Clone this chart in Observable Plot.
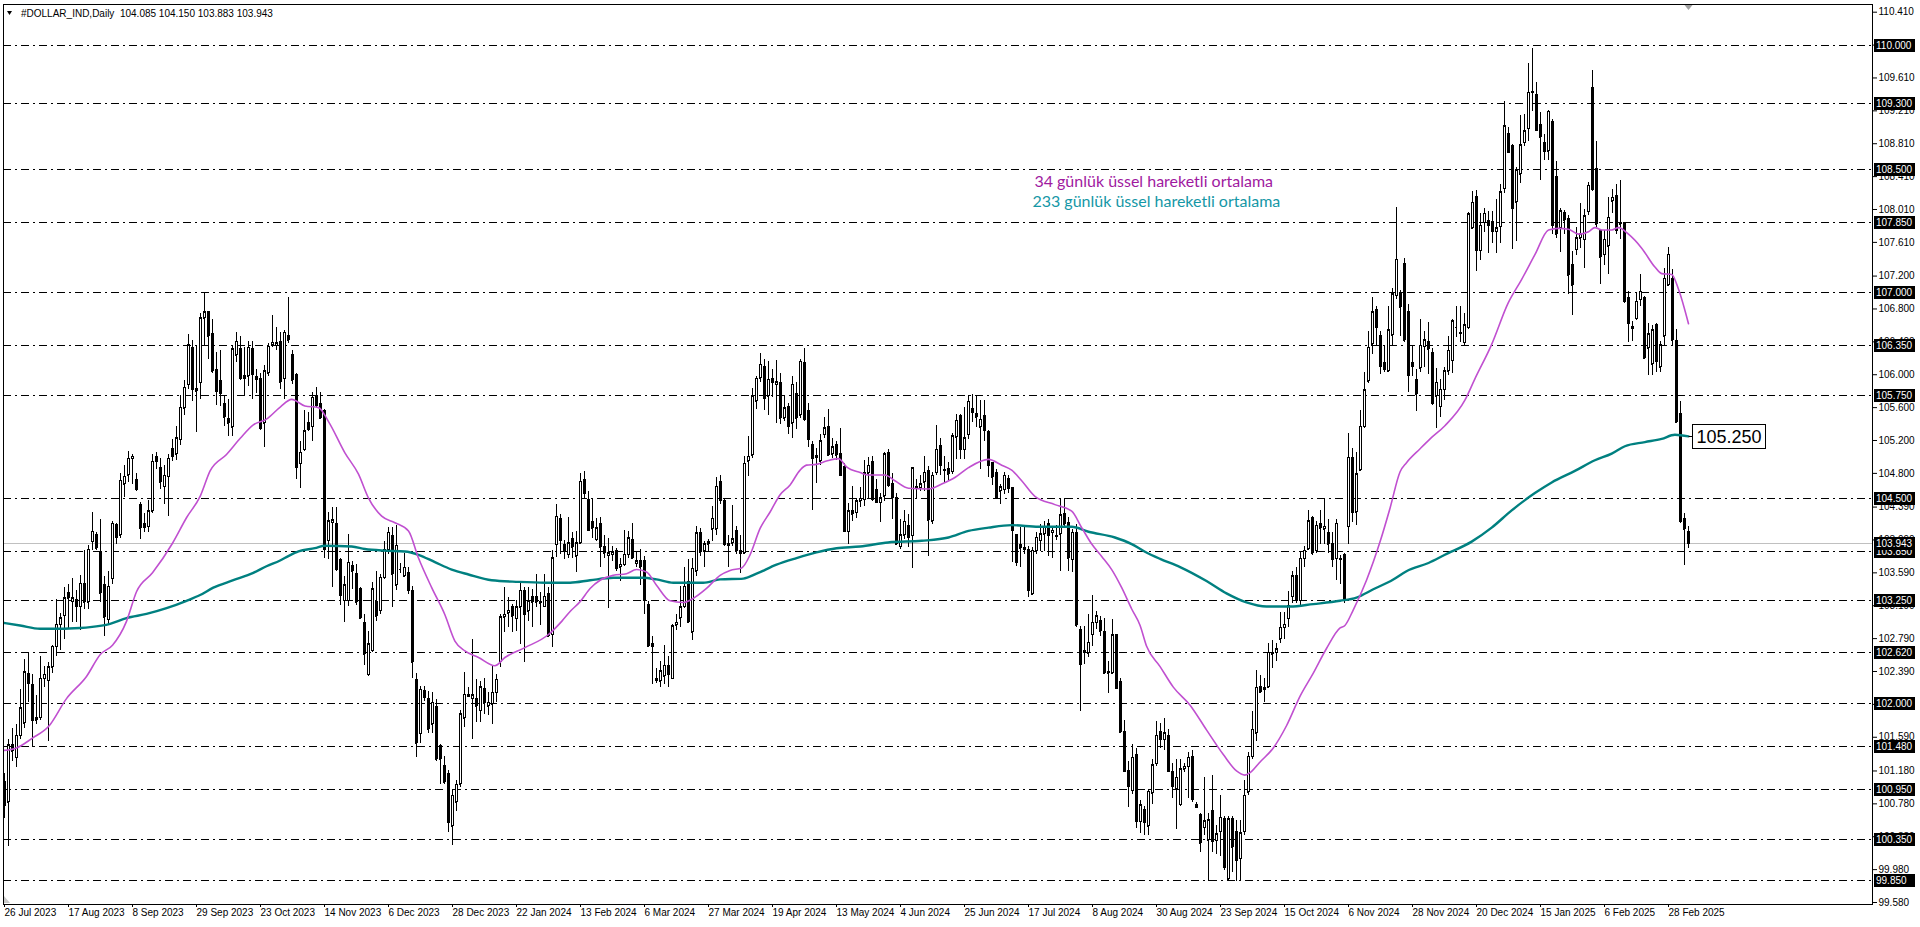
<!DOCTYPE html>
<html><head><meta charset="utf-8">
<script src="https://cdn.jsdelivr.net/npm/d3@7"></script>
<script src="https://cdn.jsdelivr.net/npm/@observablehq/plot@0.6"></script>
<style>
html,body{margin:0;padding:0;background:#fff;overflow:hidden}
#chart{width:1920px;height:927px}
</style></head><body><div id="chart"></div>
<script>
// ---- daily OHLC of #DOLLAR_IND, bar 0 = 26 Jul 2023 ... bar 421 = 7 Mar 2025 ----
const opens = [
101.05,100.80,101.49,101.34,101.61,101.76,102.36,102.22,101.83,101.83,
102.30,102.28,102.44,102.69,102.96,103.07,103.34,103.24,103.26,103.18,
103.46,103.23,103.97,104.05,103.84,103.44,103.02,103.52,104.17,104.05,
104.67,104.78,104.98,104.72,104.42,104.18,104.15,104.34,105.00,104.87,
104.64,104.76,105.10,105.03,105.21,105.59,105.88,106.33,105.83,105.90,
106.69,106.76,106.49,106.06,105.92,105.64,105.46,105.36,106.24,106.31,
105.98,105.98,106.31,105.97,105.95,105.41,106.02,106.36,106.35,106.40,
105.95,106.47,106.24,106.00,104.92,105.09,105.41,105.37,105.74,105.64,
105.56,103.98,104.20,104.19,103.75,103.25,103.25,103.67,103.58,103.39,
102.98,102.35,102.64,103.23,103.13,103.53,103.87,104.04,103.44,103.63,
103.55,103.59,103.37,102.29,101.63,102.15,102.05,101.75,101.96,101.48,
101.24,101.14,100.51,100.80,101.02,101.82,102.11,102.06,102.05,101.91,
102.18,101.97,101.99,102.13,102.50,103.05,103.10,103.18,103.03,103.17,
103.37,103.12,103.30,103.30,103.22,103.18,103.33,102.84,103.93,104.24,
103.93,103.81,104.00,103.79,103.95,104.72,104.48,104.21,103.99,104.19,
103.91,103.80,103.81,103.85,103.66,103.69,103.81,103.99,103.70,103.73,
103.73,103.20,102.72,102.30,102.27,102.33,102.46,102.30,102.95,103.04,
103.18,103.48,102.87,103.61,104.07,103.85,103.94,104.12,104.12,104.70,
104.46,103.92,103.95,104.10,103.85,103.83,104.95,105.02,105.68,105.96,
106.10,105.74,105.95,105.88,105.90,105.47,105.61,105.41,105.77,105.51,
106.14,105.56,105.15,104.99,104.95,105.27,105.37,105.03,105.15,105.03,
104.88,104.09,104.34,104.32,104.46,104.48,104.80,104.94,104.60,104.44,
104.52,105.05,104.67,104.50,103.91,104.05,104.16,104.04,104.62,104.62,
104.69,104.83,104.22,104.81,105.13,104.84,104.85,104.82,105.24,105.50,
105.09,105.27,105.58,105.52,105.36,105.50,105.30,104.93,104.81,104.58,
104.60,104.73,104.62,104.05,103.93,103.89,103.87,103.33,103.85,103.98,
104.06,104.18,104.08,104.03,104.06,104.31,104.20,103.75,104.08,102.90,
102.64,102.61,102.84,102.98,103.00,102.87,102.38,102.37,102.83,102.26,
101.66,101.18,100.94,101.38,100.56,100.71,100.51,100.91,101.27,101.65,
101.56,101.61,101.17,100.96,100.77,101.20,101.23,101.35,100.77,100.64,
100.49,100.34,100.69,100.33,100.44,100.59,99.86,100.60,100.44,100.11,
100.44,100.92,101.35,101.64,102.20,102.19,102.20,102.60,102.62,102.78,
102.92,103.03,103.30,103.55,103.25,103.76,103.88,104.26,103.86,104.19,
104.12,104.08,103.94,103.76,103.76,103.81,104.15,104.99,104.33,104.84,
105.37,105.92,106.37,106.79,106.47,106.14,106.04,106.48,106.96,107.00,
107.35,106.76,106.14,105.93,106.08,106.34,106.40,106.26,105.74,105.61,
105.82,106.04,106.17,106.58,106.50,106.39,106.57,107.78,108.16,107.51,
107.85,107.87,107.86,107.74,107.80,108.26,108.93,108.78,108.10,108.44,
108.82,108.99,109.43,109.40,109.04,108.82,108.72,109.07,108.40,107.78,
107.97,107.90,107.34,107.52,107.66,107.64,107.98,109.49,108.50,107.75,
107.46,107.56,108.11,108.17,107.85,107.84,106.93,106.58,106.68,106.91,
106.93,106.32,106.13,106.61,106.09,106.47,107.09,107.16,106.41,105.52,
104.25,104.085];
const highs = [
101.15,101.56,101.70,101.74,102.17,102.53,102.61,102.35,102.10,102.57,
102.45,102.50,102.71,103.27,103.10,103.41,103.45,103.52,103.38,103.56,
103.86,103.92,104.33,104.08,104.24,103.54,103.61,104.22,104.19,104.80,
104.89,105.07,105.03,104.80,104.44,104.31,104.47,105.03,105.05,104.98,
104.89,105.03,105.21,105.37,105.75,105.93,106.49,106.42,106.36,106.74,
107.00,106.76,106.67,106.27,106.29,105.75,105.70,106.36,106.51,106.47,
106.33,106.40,106.40,106.06,106.02,106.11,106.38,106.72,106.58,106.51,
106.54,106.94,106.29,106.02,105.19,105.56,105.54,105.78,105.84,105.78,
105.58,104.32,104.38,104.38,103.77,103.55,104.06,103.73,103.69,103.41,
103.08,102.88,103.47,103.61,103.57,103.97,104.14,104.14,104.17,103.70,
103.83,103.65,103.43,102.37,102.21,102.21,102.15,102.13,102.05,101.50,
101.36,101.18,100.96,101.06,101.91,102.38,102.19,102.78,102.29,102.27,
102.31,102.14,102.46,102.35,103.08,103.41,103.29,103.21,103.25,103.47,
103.41,103.41,103.39,103.57,103.35,103.57,103.41,103.86,104.42,104.30,
103.98,104.26,104.08,104.09,104.80,104.82,104.58,104.48,104.25,104.26,
104.05,104.01,103.91,103.89,103.77,104.11,104.09,104.19,103.85,103.87,
103.79,103.24,102.81,102.43,102.51,102.71,102.57,102.96,103.08,103.42,
103.65,103.75,103.77,104.15,104.13,103.97,103.99,104.40,104.75,104.78,
104.50,104.05,104.41,104.15,104.05,105.00,105.25,105.83,105.98,106.26,
106.19,106.16,106.06,106.17,106.02,105.73,105.65,105.98,105.90,106.18,
106.32,105.65,105.19,105.10,105.27,105.48,105.58,105.23,105.19,105.34,
104.92,104.43,104.64,104.48,104.63,104.96,104.99,105.00,104.73,104.56,
105.05,105.09,104.80,104.56,104.24,104.35,104.30,104.87,104.73,104.77,
105.01,104.88,104.81,105.38,105.23,105.01,104.93,105.28,105.52,105.52,
105.60,105.75,105.76,105.74,105.69,105.69,105.32,104.93,104.85,104.67,
104.81,104.77,104.63,104.06,104.14,104.14,103.91,103.90,104.08,104.18,
104.22,104.24,104.14,104.16,104.50,104.50,104.26,104.12,104.18,102.94,
102.94,103.08,103.31,103.12,103.06,103.04,102.51,103.02,102.83,102.31,
101.80,101.29,101.50,101.45,100.82,100.75,100.96,101.32,101.78,101.76,
101.82,101.68,101.27,101.32,101.32,101.27,101.40,101.43,100.80,100.66,
101.10,100.66,101.13,100.52,100.88,100.63,100.63,100.63,100.58,100.58,
101.07,101.40,101.90,102.40,102.34,102.31,102.73,102.77,102.73,103.11,
103.11,103.36,103.61,103.66,103.84,103.91,104.35,104.28,104.21,104.35,
104.48,104.24,104.08,104.24,103.80,103.83,105.29,105.10,105.05,105.56,
106.03,106.53,106.94,106.83,106.53,106.36,106.83,107.05,108.03,107.02,
107.41,106.86,106.36,106.06,106.67,106.53,106.64,106.32,106.07,105.94,
106.09,106.47,106.67,106.83,106.83,106.74,107.97,108.23,108.24,107.96,
108.02,107.98,107.98,108.13,108.31,109.32,109.01,108.80,108.52,109.15,
109.17,109.78,109.97,109.55,109.19,108.92,109.22,109.11,108.59,108.02,
108.00,107.94,107.50,107.79,108.08,108.01,108.34,109.70,108.84,107.76,
107.75,108.15,108.25,108.31,108.36,107.85,107.01,106.65,106.99,107.22,
106.95,106.62,106.60,106.62,106.41,107.29,107.55,107.28,106.55,105.67,
104.31,104.150];
const lows = [
100.60,100.26,101.30,101.22,101.56,101.70,102.01,101.47,101.75,101.80,
102.20,101.54,102.37,102.57,102.64,102.78,102.91,102.98,102.98,102.89,
103.14,103.14,103.86,103.86,103.23,102.81,102.96,103.45,103.93,104.01,
104.51,104.69,104.66,104.58,103.99,104.08,104.08,104.31,104.85,104.60,
104.42,104.28,104.94,104.96,105.14,105.50,105.82,105.68,105.30,105.70,
106.36,106.18,106.02,105.63,105.61,105.37,105.25,105.25,106.15,105.93,
105.75,105.86,105.70,105.77,105.32,105.12,105.98,106.33,106.30,105.82,
105.70,106.38,105.88,104.72,104.62,105.07,105.31,105.19,105.60,105.45,
103.77,103.75,103.41,103.61,103.19,102.98,103.18,103.39,103.19,103.02,
102.46,102.33,102.62,103.00,103.08,103.51,103.81,103.17,103.38,103.58,
103.55,103.33,102.31,101.34,101.52,102.03,101.63,101.63,101.30,101.02,
101.01,100.43,100.27,100.69,100.98,101.71,102.07,101.56,101.77,101.77,
101.87,101.85,101.75,102.01,102.44,102.86,102.92,102.86,102.88,102.72,
102.50,103.00,102.92,103.17,102.95,103.17,102.82,102.68,103.78,103.81,
103.75,103.77,103.77,103.60,103.93,104.50,104.09,104.01,103.97,103.65,
103.77,103.16,103.73,103.61,103.48,103.67,103.77,103.75,103.65,103.44,
103.08,102.70,102.23,102.24,102.19,102.23,102.20,102.29,102.89,102.92,
103.16,102.98,102.77,103.54,103.79,103.65,103.85,103.97,104.05,104.42,
103.91,103.65,103.91,103.81,103.58,103.81,104.76,104.98,105.58,105.90,
105.57,105.51,105.72,105.41,105.39,105.43,105.27,105.23,105.33,105.47,
105.43,105.11,104.35,104.68,104.90,105.23,105.00,104.98,104.96,104.76,
104.08,103.93,104.21,104.25,104.38,104.40,104.48,104.46,104.44,104.20,
104.46,104.63,104.24,103.93,103.87,104.00,103.90,103.64,104.50,104.58,
104.58,103.79,104.18,104.77,104.77,104.69,104.71,104.79,104.97,104.97,
104.97,105.21,105.42,105.36,104.85,105.19,104.75,104.65,104.48,104.42,
104.54,104.56,103.71,103.67,103.65,103.81,103.29,103.31,103.81,103.85,
103.85,103.79,103.77,103.98,103.61,104.14,103.61,103.59,102.92,101.90,
102.47,102.56,102.70,102.90,102.82,102.35,102.12,102.35,102.17,101.64,
101.16,100.73,100.89,100.48,100.42,100.39,100.39,100.77,101.24,101.45,
101.43,101.16,100.85,100.47,100.75,101.16,100.85,100.80,100.72,100.19,
100.39,99.83,100.19,100.16,100.14,99.97,99.85,99.94,99.83,99.83,
100.39,100.88,101.32,101.54,102.13,102.01,102.18,102.43,102.51,102.73,
102.78,102.92,103.22,103.22,103.19,103.66,103.86,103.80,103.83,103.94,
103.94,103.83,103.66,103.50,103.45,103.22,103.94,104.20,104.16,104.82,
105.34,105.89,106.25,106.34,106.00,106.03,106.03,106.36,106.91,106.47,
106.39,105.78,105.98,105.55,106.03,106.09,106.00,105.63,105.34,105.48,
105.69,105.99,106.01,106.45,106.39,106.36,106.55,107.77,107.25,107.39,
107.73,107.48,107.60,107.48,107.60,108.21,108.69,107.52,107.62,108.33,
108.78,108.84,109.20,108.96,108.36,108.60,108.61,107.71,107.66,107.49,
107.71,106.97,106.72,107.45,107.54,107.29,107.94,108.23,107.79,107.10,
107.33,107.22,107.96,107.71,107.64,106.87,106.39,106.40,106.66,106.83,
106.18,105.99,105.99,106.03,106.03,106.36,107.08,106.34,105.42,104.19,
103.68,103.883];
const closes = [
100.75,101.49,101.42,101.61,101.94,102.38,102.24,101.79,101.80,102.30,
102.35,102.44,102.69,102.96,103.04,103.28,103.28,103.28,103.18,103.46,
103.23,103.87,104.09,103.89,103.34,103.05,103.42,104.19,104.02,104.71,
104.76,104.98,105.00,104.60,104.13,104.14,104.34,104.94,104.94,104.69,
104.77,104.98,105.00,105.23,105.60,105.84,106.36,105.82,105.80,106.69,
106.76,106.47,106.04,105.79,105.77,105.48,105.41,106.31,106.40,105.95,
105.95,106.33,106.00,105.94,105.34,106.04,106.34,106.39,106.38,105.91,
106.51,106.42,105.93,104.87,105.05,105.31,105.33,105.72,105.62,105.47,
103.87,104.22,104.23,103.63,103.31,103.44,103.71,103.61,103.23,103.04,
102.60,102.72,103.39,103.06,103.53,103.87,104.08,103.57,103.92,103.63,
103.65,103.37,102.50,101.52,102.17,102.07,101.69,102.01,101.32,101.32,
101.04,100.55,100.88,101.01,101.87,102.11,102.08,102.10,101.97,102.20,
102.01,102.01,102.13,102.29,103.05,103.08,103.13,103.06,103.17,103.37,
103.08,103.24,103.23,103.23,103.24,103.30,102.82,103.77,104.27,103.98,
103.86,103.95,103.90,103.95,104.70,104.55,104.10,104.13,104.13,103.90,
103.83,103.83,103.84,103.64,103.69,103.81,104.01,103.77,103.73,103.66,
103.25,102.70,102.69,102.28,102.39,102.46,102.35,102.94,102.98,103.17,
103.42,102.99,103.64,104.07,103.84,103.94,103.96,104.25,104.64,104.47,
103.93,103.94,104.00,103.85,103.82,104.92,105.00,105.74,105.95,106.12,
105.71,105.94,105.90,105.91,105.47,105.59,105.37,105.88,105.47,106.16,
105.45,105.21,104.98,105.01,105.19,105.35,105.02,105.12,105.02,104.77,
104.09,104.34,104.30,104.46,104.49,104.80,104.89,104.48,104.44,104.50,
105.03,104.65,104.50,103.94,104.05,104.21,104.02,104.86,104.63,104.67,
104.81,104.23,104.77,105.09,104.89,104.83,104.79,105.25,105.44,105.09,
105.23,105.67,105.54,105.48,105.45,105.32,104.89,104.75,104.50,104.63,
104.77,104.61,104.10,103.71,103.89,103.87,103.37,103.86,104.02,104.06,
104.14,104.04,104.10,104.04,104.29,104.18,103.77,104.08,102.95,102.47,
102.63,102.74,102.98,103.06,102.88,102.37,102.37,102.83,102.18,101.65,
101.17,100.99,101.34,100.56,100.76,100.55,100.93,101.25,101.61,101.56,
101.64,101.17,100.99,101.10,101.20,101.23,101.34,100.83,100.73,100.30,
100.57,100.58,100.32,100.41,100.61,100.00,100.59,100.25,100.09,100.42,
100.88,101.35,101.68,102.19,102.14,102.17,102.62,102.62,102.66,102.92,
102.96,103.19,103.55,103.25,103.76,103.86,104.22,103.83,104.16,104.13,
104.15,103.94,103.75,104.19,103.75,103.25,104.99,104.32,104.79,105.37,
105.81,106.33,106.76,106.57,106.10,106.06,106.54,106.98,107.40,106.82,
106.42,105.99,106.10,105.76,106.35,106.42,106.31,105.65,105.90,105.82,
106.04,106.29,106.65,106.58,106.51,106.60,107.95,108.09,107.51,107.81,
107.96,107.81,107.74,107.78,108.22,109.02,108.70,108.02,108.48,108.79,
108.96,109.43,109.44,108.97,108.89,108.71,109.20,107.81,107.71,107.99,
107.88,107.21,107.09,107.66,107.71,107.93,108.30,108.25,107.83,107.43,
107.64,107.91,108.15,107.75,107.83,106.89,106.62,106.56,106.89,107.01,
106.20,106.49,106.54,106.16,106.36,107.17,107.46,106.42,105.42,104.21,
104.12,103.943];

// ---- 34-day EMA (magenta), read at sample bars ----
const ema34Bar = [0,3,7,11,15.5,20.5,24,27,30.5,33,37,42,45.5,49,51.4,55.5,59,62.2,65.5,69,71.8,75.1,78.5,81,85.1,88.5,91,94.3,97.6,101,103.5,106.8,110.1,112.6,115.1,118.5,122.6,125.1,130.1,136,139.3,141.4,143.9,146.4,148.9,152.2,155.5,158,160.5,163,166.4,169.7,172.2,175.5,178.9,181.4,184.3,186.4,188.9,191.4,193.9,196.4,198.9,200.5,203,205.5,208.5,210.5,213.9,216,220.1,222.6,226,231,234.3,237.6,241,246,249.3,251.8,254.3,257.6,262.6,266.8,269.3,271.8,274.3,276.8,279.3,281.8,283.9,285.5,288.9,292.2,296.4,300.5,304.7,308,310.1,311.4,313.9,317.2,320.5,323.9,327.2,330.5,333.9,335.1,337.2,340.5,343.9,346.4,348.9,350.5,353.9,356.4,360.1,365.1,367.6,371.8,375.9,379.3,382.6,386,388.5,391,393.5,396,397.6,399.3,401.8,403.5,406,409.3,412.6,414.3,416.8,418.5,421];
const ema34Val = [101.43,101.46,101.58,101.72,102.06,102.33,102.60,102.71,103.00,103.36,103.59,103.95,104.26,104.53,104.83,105.03,105.23,105.39,105.46,105.61,105.70,105.62,105.60,105.43,105.05,104.79,104.50,104.28,104.20,104.10,103.77,103.41,103.08,102.76,102.64,102.56,102.46,102.56,102.68,102.84,103.00,103.12,103.24,103.40,103.50,103.56,103.58,103.63,103.60,103.44,103.25,103.23,103.28,103.40,103.56,103.62,103.65,103.81,104.13,104.33,104.54,104.66,104.84,104.90,104.91,104.95,104.98,104.88,104.81,104.78,104.78,104.71,104.62,104.61,104.67,104.75,104.87,104.97,104.90,104.84,104.71,104.52,104.42,104.34,104.14,103.94,103.79,103.63,103.41,103.15,102.95,102.70,102.45,102.20,101.98,101.68,101.38,101.18,101.13,101.16,101.29,101.46,101.73,102.09,102.37,102.67,102.92,102.95,103.14,103.50,103.97,104.38,104.82,104.93,105.10,105.22,105.38,105.69,105.95,106.37,106.87,107.16,107.46,107.76,107.78,107.77,107.71,107.74,107.79,107.76,107.76,107.79,107.71,107.54,107.31,107.23,107.22,107.04,106.62];
// ---- 233-day EMA (teal), read at sample bars ----
const ema233Bar = [0,3.9,8.9,13.9,18.9,21.4,26.4,30.5,35.5,40.5,45.5,48.9,52.2,57.2,62.2,65.5,68.9,71.2,73.5,77.6,80.1,86.8,90.1,95.1,100.1,103.5,107.6,111.8,116,121.8,128.5,135.1,141.4,146.4,152.2,159.7,163,167.2,174.7,178.9,184.7,188,193,198,203,208,213.9,220.9,229.3,236,241,246,251.8,258.5,266.8,271,277.6,281.8,285,288.9,293.9,300.5,305.5,310.5,315.5,321.4,327.2,333.9,338,342.2,347.2,350.5,356,360.1,366.8,371.8,376.8,382.6,386.8,392.6,397.6,401.8,405.1,410.1,414.3,417.6,421];
const ema233Val = [102.98,102.95,102.91,102.91,102.92,102.93,102.97,103.04,103.09,103.16,103.25,103.32,103.41,103.50,103.59,103.67,103.74,103.80,103.85,103.89,103.92,103.91,103.88,103.86,103.85,103.81,103.72,103.63,103.57,103.50,103.48,103.47,103.47,103.50,103.53,103.53,103.51,103.47,103.47,103.51,103.52,103.58,103.69,103.77,103.84,103.89,103.91,103.96,103.98,104.02,104.10,104.14,104.17,104.15,104.15,104.09,104.02,103.94,103.85,103.76,103.66,103.49,103.34,103.23,103.18,103.18,103.21,103.25,103.29,103.39,103.51,103.61,103.71,103.81,103.97,104.14,104.35,104.56,104.69,104.83,104.96,105.04,105.13,105.18,105.22,105.27,105.25];

// ---- horizontal levels, axis ticks, date labels ----
const levels = [110.000,109.300,108.500,107.850,107.000,106.350,105.750,104.500,103.850,103.250,102.620,102.000,101.480,100.950,100.350,99.850];
const priceTicks = [110.41,110.01,109.61,109.21,108.81,108.41,108.01,107.61,107.20,106.80,106.40,106.00,105.60,105.20,104.80,104.39,103.99,103.59,103.19,102.79,102.39,101.99,101.59,101.18,100.78,100.38,99.98,99.58];
const dateLabels = ["26 Jul 2023","17 Aug 2023","8 Sep 2023","29 Sep 2023","23 Oct 2023","14 Nov 2023","6 Dec 2023","28 Dec 2023","22 Jan 2024","13 Feb 2024","6 Mar 2024","27 Mar 2024","19 Apr 2024","13 May 2024","4 Jun 2024","25 Jun 2024","17 Jul 2024","8 Aug 2024","30 Aug 2024","23 Sep 2024","15 Oct 2024","6 Nov 2024","28 Nov 2024","20 Dec 2024","15 Jan 2025","6 Feb 2025","28 Feb 2025"];
const labelStep = 16;
const legendLines = ["34 günlük üssel hareketli ortalama","233 günlük üssel hareketli ortalama"];
const legendColors = ["#a0199f","#1597a6"];
const symbolName = "#DOLLAR_IND,Daily";

// ---- build tables ----
const bars = opens.map((o, i) => ({i, open: o, high: highs[i], low: lows[i], close: closes[i]}));
const bulls = bars.filter(d => d.close >= d.open);
const bears = bars.filter(d => d.close < d.open);
const ema34 = ema34Bar.map((b, k) => ({b, v: ema34Val[k]}));
const ema233 = ema233Bar.map((b, k) => ({b, v: ema233Val[k]}));
const last = bars[bars.length - 1];
const lastI = last.i;
const dateTicks = dateLabels.map((d, k) => k * labelStep);

const W = 1920, H = 927, mL = 3, mR = 48, mT = 4, mB = 23;
const FONT = "'Liberation Sans', Arial, sans-serif";
const crisp = {shapeRendering: "crispEdges"};

const chart = Plot.plot({
  width: W, height: H,
  marginLeft: mL, marginRight: mR, marginTop: mT, marginBottom: mB,
  style: {fontFamily: FONT, fontSize: "10px", background: "#fff", overflow: "visible", color: "#000"},
  x: {type: "linear", domain: [0, 421], range: [4, 1688], axis: null},
  y: {type: "linear", domain: [99.58, 110.41], range: [902, 11.7], axis: null},
  marks: [
    Plot.ruleY(levels, {stroke: "#000", strokeWidth: 1, strokeDasharray: "8,4,2,4", ...crisp}),
    Plot.ruleY([last.close], {stroke: "#c0c0c0", strokeWidth: 1, ...crisp}),
    Plot.ruleX(bars, {x: "i", y1: "low", y2: "high", stroke: "#000", strokeWidth: 1, ...crisp}),
    Plot.rect(bears, {x1: d => d.i - 0.25, x2: d => d.i + 0.25, y1: "open", y2: "close", fill: "#000", stroke: "#000", strokeWidth: 1, ...crisp}),
    Plot.rect(bulls, {x1: d => d.i - 0.25, x2: d => d.i + 0.25, y1: "open", y2: "close", fill: "#fff", stroke: "#000", strokeWidth: 1, ...crisp}),
    Plot.ruleY(bars, {y: "close", x1: d => d.i - 0.25, x2: d => d.i + 0.25, stroke: "#000", strokeWidth: 1, ...crisp}),
    Plot.ruleY(bars, {y: "open", x1: d => d.i - 0.25, x2: d => d.i + 0.25, stroke: "#000", strokeWidth: 1, ...crisp}),
    Plot.line(ema233, {x: "b", y: "v", stroke: "#008080", strokeWidth: 2.4, curve: "monotone-x"}),
    Plot.line(ema34, {x: "b", y: "v", stroke: "#c050d0", strokeWidth: 1.6, curve: "monotone-x"}),
    Plot.frame({stroke: "#000", strokeWidth: 1, ...crisp}),
    Plot.axisY(priceTicks, {anchor: "right", tickSize: 4, tickPadding: 2, tickFormat: d => d.toFixed(3), fontSize: 10}),
    Plot.axisX(dateTicks, {anchor: "bottom", tickSize: 3, tickPadding: 1, tickFormat: d => dateLabels[d / labelStep], textAnchor: "start", fontSize: 10})
  ]
});
document.getElementById("chart").appendChild(chart);

// ---- overlays placed through the plot's own scales ----
const xs = chart.scale("x"), ys = chart.scale("y");
const svg = d3.select(chart);
const g = svg.append("g").attr("font-family", FONT).attr("text-anchor", "start");

// legend text (coloured)
const legX = xs.apply(257.6), legY = ys.apply(108.35);
legendLines.forEach((t, k) => {
  g.append("text").attr("x", legX + (k ? -2 : 0)).attr("y", legY + k * 20.5).attr("dy", "0.35em")
    .attr("text-anchor", "start")
    .attr("font-family", "Lato, 'Open Sans', sans-serif").attr("font-size", 16)
    .attr("fill", legendColors[k]).text(t);
});

// right-axis black level boxes (levels + current price)
const axX = W - mR + 2;
[...levels, last.close].forEach(v => {
  const y = Math.round(ys.apply(v)) + 0.5;
  g.append("rect").attr("x", axX).attr("y", y - 6.5).attr("width", 41).attr("height", 13).attr("fill", "#000");
  g.append("text").attr("x", axX + 2).attr("y", y).attr("dy", "0.36em").attr("font-size", 10)
    .attr("text-anchor", "start").attr("fill", "#fff").text(v.toFixed(3));
});

// 233 EMA value label box
const emaLast = ema233Val[ema233Val.length - 1];
const ex = xs.apply(lastI) + 0.5, ey = Math.round(ys.apply(emaLast)) + 0.5;
g.append("line").attr("x1", ex).attr("x2", ex + 4).attr("y1", ey).attr("y2", ey).attr("stroke", "#000");
g.append("rect").attr("x", ex + 4).attr("y", ey - 12).attr("width", 73).attr("height", 24)
  .attr("fill", "#fff").attr("stroke", "#000").attr("stroke-width", 1);
g.append("text").attr("x", ex + 40.5).attr("y", ey).attr("dy", "0.36em").attr("text-anchor", "middle")
  .attr("font-size", 18).attr("fill", "#000").text(emaLast.toFixed(3));

// header line
const hdr = `${symbolName}\u00a0\u00a0${last.open.toFixed(3)} ${last.high.toFixed(3)} ${last.low.toFixed(3)} ${last.close.toFixed(3)}`;
g.append("path").attr("d", `M7,11 L12,11 L9.5,15 Z`).attr("fill", "#000");
g.append("text").attr("x", 21).attr("y", 13).attr("dy", "0.35em").attr("font-size", 10)
  .attr("text-anchor", "start").attr("fill", "#000").text(hdr);

// chart-shift marker at top, small corner marker bottom-left
const sx = xs.apply(lastI) + 0.5;
g.append("path").attr("d", `M${sx - 4},${mT + 1} L${sx + 4},${mT + 1} L${sx},${mT + 6} Z`).attr("fill", "#a0a0a0");
g.append("path").attr("d", `M${mL + 1},${H - mB - 8} L${mL + 1},${H - mB - 1} L${mL + 7},${H - mB - 1} Z`).attr("fill", "#c8c8c8");
</script>
</body></html>
